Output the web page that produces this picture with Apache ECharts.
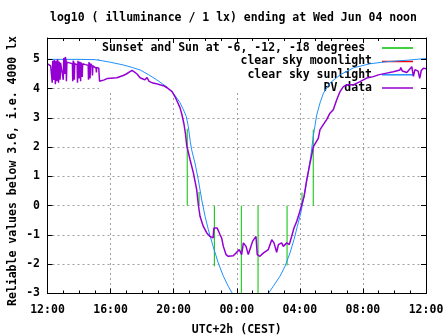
<!DOCTYPE html>
<html><head><meta charset="utf-8">
<script src="https://cdn.jsdelivr.net/npm/echarts@6/dist/echarts.min.js"></script>
<style>html,body{margin:0;padding:0;background:#fff}#c{width:447px;height:335px}</style>
</head><body><div id="c"></div>
<script>
const titleText = 'log10 ( illuminance / 1 lx) ending at Wed Jun 04 noon';
const yAxisTitle = 'Reliable values below 3.6, i.e. 4000 lx';
const xAxisTitle = 'UTC+2h (CEST)';
const seriesNames = ['Sunset and Sun at -6, -12, -18 degrees ', 'clear sky moonlight', 'clear sky sunlight', 'PV data'];
const seriesColors = ['#00c000', '#ff0000', '#1e90ff', '#9400d3'];
// x in hours after 12:00
const xTickLabels = ['12:00', '16:00', '20:00', '00:00', '04:00', '08:00', '12:00'];

const sunEventHours = [8.86, 9.61, 10.58, 12.29, 13.35, 15.19, 16.14, 16.85];
const sunEventTops = [2.63, 0.47, -2.07, -3, -3, -2.04, 0.45, 2.6];

const moonHours = [];
const moonValues = [];

const sunHours = [0, 1, 2, 3, 3.5, 4.0, 4.8, 5.4, 5.9, 6.4, 6.9, 7.3, 7.6, 7.95, 8.2, 8.4, 8.6, 8.8, 8.93, 9.05, 9.14, 9.35, 9.56, 9.78, 9.99, 10.2, 10.5, 10.83, 11.15, 11.46, 11.72, 12.86, 14.0, 14.32, 14.74, 15.06, 15.38, 15.63, 15.84, 16.06, 16.27, 16.48, 16.69, 16.85, 16.95, 17.07, 17.3, 17.5, 17.91, 18.55, 19.4, 20.45, 21.5, 22.8, 24];
const sunValues = [5.0, 5.0, 5.0, 4.99, 4.95, 4.9, 4.81, 4.72, 4.63, 4.48, 4.31, 4.16, 4.05, 3.86, 3.68, 3.52, 3.3, 3.05, 2.7, 2.2, 1.91, 1.46, 0.89, 0.2, -0.36, -0.82, -1.39, -1.96, -2.41, -2.75, -3.0, -4.3, -3.0, -2.75, -2.41, -2.07, -1.61, -1.16, -0.71, -0.25, 0.32, 0.98, 1.68, 2.37, 2.7, 3.1, 3.55, 3.85, 4.19, 4.47, 4.71, 4.85, 4.92, 4.97, 5.03];

const pvHours = [0.00, 0.10, 0.20, 0.28, 0.30, 0.33, 0.38, 0.40, 0.43, 0.48, 0.50, 0.53, 0.58, 0.60, 0.63, 0.68, 0.70, 0.73, 0.78, 0.80, 0.83, 0.95, 1.00, 1.03, 1.08, 1.10, 1.13, 1.18, 1.20, 1.23, 1.40, 1.58, 1.60, 1.63, 1.68, 1.70, 1.73, 1.88, 1.90, 1.93, 1.98, 2.00, 2.03, 2.08, 2.10, 2.13, 2.18, 2.20, 2.23, 2.40, 2.58, 2.60, 2.63, 2.68, 2.70, 2.73, 2.83, 2.85, 2.88, 3.00, 3.08, 3.10, 3.12, 3.25, 3.30,
  3.6, 3.8, 4.4, 4.8, 5.0, 5.23, 5.36, 5.5, 5.68, 5.87, 6.05, 6.18, 6.31, 6.44, 6.69, 6.9, 7.13, 7.35, 7.58, 7.9, 8.08, 8.27, 8.4, 8.53, 8.65, 8.75, 8.83, 9.04, 9.25, 9.46, 9.56, 9.67, 9.88, 10.1, 10.3, 10.5, 10.55, 10.75, 10.83, 10.95, 11.04, 11.15, 11.32, 11.46, 11.78, 11.95, 12.04, 12.16, 12.31, 12.42, 12.59, 12.73, 12.84, 13.01, 13.22, 13.3, 13.47, 13.68, 14.0, 14.22, 14.36, 14.53, 14.64, 14.85, 14.95, 15.17, 15.33, 15.48, 15.63, 15.8, 15.97, 16.12, 16.27, 16.44, 16.65, 16.86, 17.17, 17.28, 17.49, 17.7, 17.91, 18.12, 18.34, 18.55, 18.76, 18.97, 19.39, 19.82, 20.24, 20.66, 20.98, 21.5, 21.93, 22.35, 22.4, 22.5, 22.78, 22.9, 23.1, 23.2, 23.3, 23.5, 23.6, 23.7, 23.85, 24.0];
const pvValues = [4.85, 4.80, 4.78, 4.82, 4.20, 4.95, 4.90, 4.30, 4.98, 4.92, 4.15, 4.95, 4.90, 4.25, 5.00, 4.88, 4.20, 4.92, 4.85, 4.30, 4.88, 4.90, 4.30, 5.05, 5.00, 4.50, 5.08, 4.95, 4.25, 4.90, 4.88, 4.85, 4.25, 4.95, 4.88, 4.30, 4.85, 4.82, 4.20, 4.95, 4.90, 4.35, 4.92, 4.85, 4.25, 4.90, 4.85, 4.40, 4.85, 4.82, 4.80, 4.30, 4.90, 4.82, 4.35, 4.85, 4.78, 4.45, 4.78, 4.72, 4.70, 4.55, 4.72, 4.70, 4.25,
  4.3, 4.35, 4.37, 4.45, 4.5, 4.58, 4.62, 4.57, 4.5, 4.37, 4.33, 4.3, 4.38, 4.25, 4.19, 4.17, 4.13, 4.1, 4.03, 3.9, 3.73, 3.51, 3.35, 3.1, 2.8, 2.45, 2.05, 1.57, 1.12, 0.55, 0.05, -0.36, -0.71, -0.93, -1.05, -1.1, -0.76, -0.76, -0.85, -1.0, -1.1, -1.39, -1.67, -1.73, -1.71, -1.62, -1.67, -1.5, -1.67, -1.27, -1.39, -1.67, -1.7, -1.21, -1.05, -1.67, -1.73, -1.62, -1.5, -1.16, -1.27, -1.59, -1.33, -1.27, -1.39, -1.27, -1.33, -1.05, -0.76, -0.54, -0.25, 0.03, 0.32, 0.89, 1.46, 2.02, 2.3, 2.6, 2.77, 2.94, 3.16, 3.28, 3.62, 3.9, 4.07, 4.13, 4.13, 4.24, 4.36, 4.41, 4.47, 4.53, 4.58, 4.64, 4.72, 4.6, 4.55, 4.6, 4.75, 4.42, 4.65, 4.6, 4.35, 4.62, 4.7, 4.68];

const FONT = 'DejaVu Sans Mono';
const txt = {fontFamily: FONT, fontWeight: 'bold', fontSize: 11.5, color: '#000'};
const zip = (xs, ys) => xs.map((x, i) => [x, ys[i]]);
const greenData = [];
sunEventHours.forEach((h, i) => { greenData.push([h, 0], [h, sunEventTops[i]], [h, null]); });

const X = {type: 'value', min: 0, max: 24, interval: 4};
const Y = {type: 'value', min: -3, max: 5.73, interval: 1};
const grid = {left: 47.5, right: 21, top: 38, bottom: 41.5, containLabel: false, outerBoundsMode: 'none'};
const gridLine = {show: true, lineStyle: {color: '#a0a0a0', type: [2, 3], width: 1}};
const blk = {color: '#000', width: 1};

const chart = echarts.init(document.getElementById('c'), null, {renderer: 'canvas'});
chart.setOption({
  animation: false,
  backgroundColor: '#fff',
  title: {text: titleText, left: 50, top: 11, padding: 0, textStyle: Object.assign({}, txt, {lineHeight: 14})},
  grid: grid,
  graphic: [
    {type: 'rect', left: 99, top: 38.5, shape: {width: 327, height: 53}, style: {fill: '#fff'}, z: 1, silent: true},
    {type: 'text', x: 13.5, y: 171, rotation: Math.PI / 2, style: {text: yAxisTitle, align: 'center', verticalAlign: 'middle', font: 'bold 11.5px "DejaVu Sans Mono"', fill: '#000'}, z: 5}
  ],
  legend: seriesNames.map((n, i) => ({
    data: [n], right: 34, top: [41.5, 55, 68.3, 81.5][i], orient: 'vertical', align: 'right',
    itemWidth: 31, itemHeight: 1.5, icon: 'rect', padding: 0, selectedMode: false, z: 2,
    textStyle: Object.assign({}, txt, {padding: [0, 5, 0, 0], lineHeight: 13})
  })),
  xAxis: [
    Object.assign({}, X, {position: 'bottom', z: 0, axisLine: {show: false, onZero: false}, axisTick: {show: false}, axisLabel: {show: false}, splitLine: gridLine}),
    Object.assign({}, X, {position: 'bottom', z: 4, axisLine: {show: true, onZero: false, lineStyle: blk},
      axisTick: {show: true, inside: true, length: 5, lineStyle: blk},
      minorTick: {show: true, splitNumber: 4, length: 3, lineStyle: blk},
      axisLabel: Object.assign({}, txt, {margin: 11, formatter: v => (Math.abs(v / 4 - Math.round(v / 4)) < 1e-6 ? xTickLabels[Math.round(v / 4)] : '')}),
      splitLine: {show: false}, name: xAxisTitle, nameLocation: 'middle', nameGap: 31, nameTextStyle: txt}),
    Object.assign({}, X, {position: 'top', z: 4, axisLine: {show: true, onZero: false, lineStyle: blk},
      axisTick: {show: true, inside: true, length: 5, lineStyle: blk},
      minorTick: {show: true, splitNumber: 4, length: 3, lineStyle: blk},
      axisLabel: {show: false}, splitLine: {show: false}})
  ],
  yAxis: [
    Object.assign({}, Y, {position: 'left', z: 0, axisLine: {show: false, onZero: false}, axisTick: {show: false}, axisLabel: {show: false}, splitLine: gridLine}),
    Object.assign({}, Y, {position: 'left', z: 4, axisLine: {show: true, onZero: false, lineStyle: blk},
      axisTick: {show: true, inside: true, length: 5, lineStyle: blk},
      axisLabel: Object.assign({}, txt, {margin: 7.5, formatter: v => (Math.abs(v - Math.round(v)) < 1e-6 ? String(Math.round(v)) : '')}),
      splitLine: {show: false}}),
    Object.assign({}, Y, {position: 'right', z: 4, axisLine: {show: true, onZero: false, lineStyle: blk},
      axisTick: {show: true, inside: true, length: 5, lineStyle: blk},
      axisLabel: {show: false}, splitLine: {show: false}})
  ],
  series: [
    {name: seriesNames[0], type: 'line', data: greenData, symbol: 'none', connectNulls: false, z: 3,
      lineStyle: {color: seriesColors[0], width: 1}, itemStyle: {color: seriesColors[0]}},
    {name: seriesNames[1], type: 'line', data: zip(moonHours, moonValues), symbol: 'none', z: 3,
      lineStyle: {color: seriesColors[1], width: 1}, itemStyle: {color: seriesColors[1]}},
    {name: seriesNames[2], type: 'line', data: zip(sunHours, sunValues), symbol: 'none', z: 3,
      lineStyle: {color: seriesColors[2], width: 1}, itemStyle: {color: seriesColors[2]}},
    {name: seriesNames[3], type: 'line', data: zip(pvHours, pvValues), symbol: 'none', z: 3,
      lineStyle: {color: seriesColors[3], width: 1.5}, itemStyle: {color: seriesColors[3]}}
  ]
});
</script></body></html>
